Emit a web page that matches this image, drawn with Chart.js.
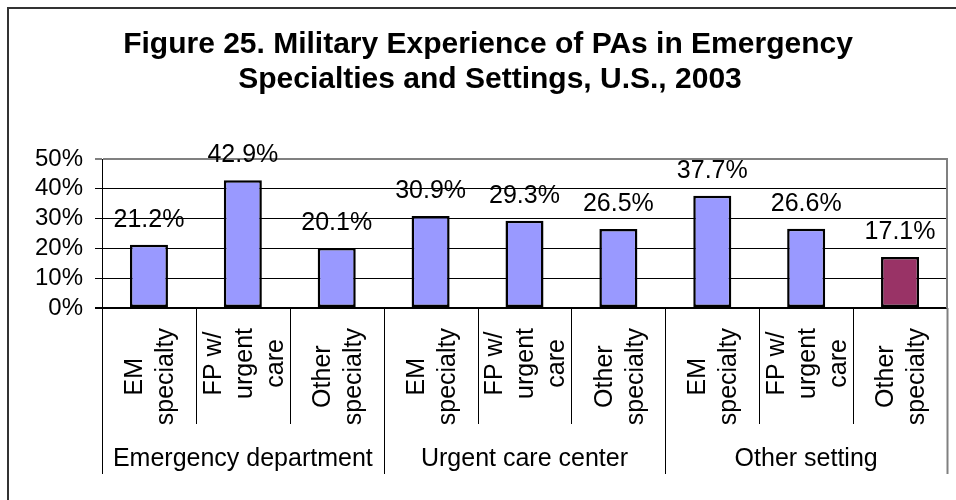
<!DOCTYPE html>
<html>
<head>
<meta charset="utf-8">
<script src="https://cdn.jsdelivr.net/npm/chart.js@4.4.1/dist/chart.umd.min.js"></script>
<style>
html,body{margin:0;padding:0;background:#fff;}
canvas{display:block;}
</style>
</head>
<body>
<canvas id="c" width="956" height="500"></canvas>
<script>
const titleLines = ["Figure 25. Military Experience of PAs in Emergency", "Specialties and Settings, U.S., 2003"];
const groups = ["Emergency department", "Urgent care center", "Other setting"];
const subcategories = [
  ["EM", "specialty"], ["FP w/", "urgent", "care"], ["Other", "specialty"],
  ["EM", "specialty"], ["FP w/", "urgent", "care"], ["Other", "specialty"],
  ["EM", "specialty"], ["FP w/", "urgent", "care"], ["Other", "specialty"]
];
const values = [21.2, 42.9, 20.1, 30.9, 29.3, 26.5, 37.7, 26.6, 17.1];
const barColors = ["#9999FF","#9999FF","#9999FF","#9999FF","#9999FF","#9999FF","#9999FF","#9999FF","#993366"];
const yMax = 50;
const yStep = 10;

const FONT = "'Liberation Sans', Arial, sans-serif";

const decor = {
  id: 'decor',
  beforeDraw(chart) {
    const ctx = chart.ctx;
    ctx.save();
    ctx.fillStyle = '#fff';
    ctx.fillRect(0, 0, chart.width, chart.height);
    ctx.strokeStyle = '#333';
    ctx.lineWidth = 2;
    ctx.strokeRect(8, 8, 1200, 1200);
    ctx.fillStyle = '#000';
    ctx.font = 'bold 30px ' + FONT;
    ctx.textAlign = 'center';
    ctx.textBaseline = 'alphabetic';
    ctx.fillText(titleLines[0], 488, 53);
    ctx.fillText(titleLines[1], 490, 88);
    ctx.restore();
  },
  afterDatasetsDraw(chart) {
    const ctx = chart.ctx;
    const meta = chart.getDatasetMeta(0);
    ctx.save();
    ctx.fillStyle = '#000';
    ctx.font = '25px ' + FONT;
    ctx.textAlign = 'center';
    ctx.textBaseline = 'alphabetic';
    meta.data.forEach((bar, i) => {
      ctx.fillText(values[i].toFixed(1) + '%', bar.x, bar.y - 18);
    });
    ctx.restore();
  },
  afterDraw(chart) {
    const ctx = chart.ctx;
    const xs = chart.scales.x;
    const area = chart.chartArea;
    const step = xs.getPixelForValue(1) - xs.getPixelForValue(0);
    const n = values.length;
    ctx.save();
    // right plot border
    ctx.strokeStyle = '#808080';
    ctx.lineWidth = 2;
    ctx.beginPath();
    ctx.moveTo(area.right, area.top - 1);
    ctx.lineTo(area.right, area.bottom);
    ctx.stroke();
    // separators
    for (let i = 0; i <= n; i++) {
      const bx = Math.round(xs.getPixelForValue(i) - step / 2) + 0.5;
      const isGroup = (i % 3 === 0);
      ctx.strokeStyle = (i === n) ? '#808080' : '#000';
      ctx.lineWidth = (i === n) ? 2 : 1;
      ctx.beginPath();
      ctx.moveTo(bx, area.bottom);
      ctx.lineTo(bx, isGroup ? 474 : 424);
      ctx.stroke();
    }
    // rotated subcategory labels
    ctx.fillStyle = '#000';
    ctx.font = '25px ' + FONT;
    ctx.textAlign = 'center';
    ctx.textBaseline = 'alphabetic';
    const lh = 31;
    subcategories.forEach((lines, i) => {
      const cx = xs.getPixelForValue(i);
      const w = Math.max(...lines.map(l => ctx.measureText(l).width));
      const yc = 328 + w / 2;
      lines.forEach((line, j) => {
        const bx = cx + (j - (lines.length - 1) / 2) * lh + 8.7;
        ctx.save();
        ctx.translate(bx, yc);
        ctx.rotate(-Math.PI / 2);
        ctx.fillText(line, 0, 0);
        ctx.restore();
      });
    });
    // group labels
    groups.forEach((g, k) => {
      const gx = (xs.getPixelForValue(k * 3) + xs.getPixelForValue(k * 3 + 2)) / 2;
      ctx.fillText(g, gx, 466);
    });
    ctx.restore();
  }
};

new Chart(document.getElementById('c'), {
  type: 'bar',
  data: {
    labels: subcategories.map(l => l.join(' ')),
    datasets: [{
      data: values,
      backgroundColor: barColors,
      borderColor: '#000',
      borderWidth: 2.5,
      borderSkipped: false,
      categoryPercentage: 1,
      barPercentage: 0.405
    }]
  },
  options: {
    responsive: false,
    devicePixelRatio: 1,
    animation: false,
    layout: { padding: { left: 0, top: 159, right: 9, bottom: 192 } },
    plugins: { legend: { display: false }, title: { display: false }, tooltip: { enabled: false } },
    scales: {
      x: { display: false },
      y: {
        min: 0, max: yMax,
        afterFit(scale) { scale.width = 102; },
        ticks: {
          stepSize: yStep,
          autoSkip: false,
          color: '#000',
          font: { family: FONT, size: 24 },
          padding: 12,
          callback: v => v + '%'
        },
        grid: {
          color: c => (c.tick && c.tick.value === yMax) ? '#808080' : '#000',
          lineWidth: c => (c.tick && (c.tick.value === yMax || c.tick.value === 0)) ? 2 : 1,
          tickLength: 7,
          drawTicks: true
        },
        border: { display: true, color: '#000', width: 1 }
      }
    }
  },
  plugins: [decor]
});
</script>
</body>
</html>
